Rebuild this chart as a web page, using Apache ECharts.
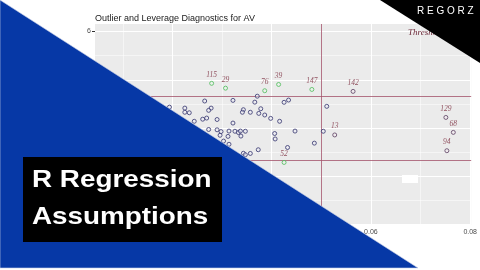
<!DOCTYPE html>
<html><head><meta charset="utf-8">
<script src="https://cdn.jsdelivr.net/npm/echarts@6/dist/echarts.min.js"></script>
<style>html,body{margin:0;padding:0;background:#fff}#c{width:480px;height:270px}</style>
</head><body><div id="c"></div>
<script>
// ---- data ----
var xTicks = [0.02, 0.04, 0.06, 0.08];
var yTicks = [-6, -3, 0, 3, 6];
var xGrid = [0.01, 0.02, 0.03, 0.04, 0.05, 0.06, 0.07, 0.08];
var yGrid = [-6, -4.5, -3, -1.5, 0, 1.5, 3, 4.5, 6];
var normalX = [0.0371,0.0265,0.0322,0.0366,0.0425,0.0434,0.0278,0.0273,0.0225,0.0225,0.0234,0.0194,0.0343,0.0341,0.0357,0.0378,0.0374,0.0386,0.0398,0.0416,0.0447,0.0269,0.0261,0.0290,0.0244,0.0322,0.0273,0.0290,0.0298,0.0314,0.0326,0.0333,0.0337,0.0347,0.0296,0.0312,0.0338,0.0303,0.0314,0.0406,0.0407,0.0432,0.0373,0.0343,0.0347,0.0357,0.0511,0.0504,0.0486];
var normalY = [1.98,1.68,1.72,1.61,1.60,1.74,1.24,1.10,1.24,0.98,0.95,1.30,1.14,0.98,0.98,1.20,0.91,0.81,0.60,0.42,-0.19,0.62,0.55,0.53,0.42,0.31,-0.09,-0.11,-0.22,-0.19,-0.20,-0.28,-0.19,-0.20,-0.45,-0.52,-0.50,-0.81,-1.01,-0.34,-0.68,-1.21,-1.35,-1.57,-1.66,-1.58,1.35,-0.20,-0.94];
var outlierIds = ['115','29','76','39','147','52'];
var outlierX = [0.0279,0.0307,0.0386,0.0414,0.0481,0.0425];
var outlierY = [2.78,2.48,2.32,2.71,2.40,-2.14];
var leverageIds = ['142','13','129','68','94'];
var leverageX = [0.0564,0.0527,0.0751,0.0766,0.0753];
var leverageY = [2.28,-0.43,0.66,-0.27,-1.41];
var residThreshold = [2, -2];
var leverageThreshold = 0.052;
var titleText = 'Outlier and Leverage Diagnostics for AV';
var thresholdText = 'Threshold: abs(2)';

function pts(xs, ys, ids){ return xs.map(function(x,i){ return {value:[x, ys[i]], name: ids ? ids[i] : ''}; }); }

var chart = echarts.init(document.getElementById('c'));
var labelStyle = {show:true, position:'top', distance:2, formatter:'{b}', fontFamily:'Liberation Serif', fontStyle:'italic', fontSize:7.5, color:'#7a2a3c'};
var gridLines = xGrid.map(function(v){ return {xAxis:v, lineStyle:{width: (Math.round(v*100)%2===0)?1.1:0.5}}; })
  .concat(yGrid.map(function(v){ return {yAxis:v, lineStyle:{width: (v%3===0)?1.1:0.5}}; }));
var thrLines = residThreshold.map(function(v){ return {yAxis:v}; }).concat([{xAxis:leverageThreshold}]);

chart.setOption({
  animation:false,
  backgroundColor:'#ffffff',
  title:{text:titleText, left:90, top:9, textStyle:{fontFamily:'Liberation Sans', fontSize:9, fontWeight:'normal', color:'#1a1a1a'}},
  grid:{left:95, right:6, top:24, bottom:45, show:true, backgroundColor:'#ebebeb', borderWidth:0},
  xAxis:{type:'value', min:0.0044, max:0.0802,
    axisLine:{show:false}, splitLine:{show:false},
    axisTick:{show:true, customValues:xTicks, length:3, lineStyle:{color:'#333'}},
    axisLabel:{customValues:xTicks, fontSize:7, color:'#4d4d4d', margin:4, fontFamily:'Liberation Sans'}},
  yAxis:{type:'value', min:-6.03, max:6.47,
    axisLine:{show:false}, splitLine:{show:false},
    axisTick:{show:true, customValues:yTicks, length:3, lineStyle:{color:'#333'}},
    axisLabel:{customValues:yTicks, fontSize:7, color:'#4d4d4d', margin:4, fontFamily:'Liberation Sans'}},
  series:[
    {type:'scatter', data:[], z:1, markLine:{z:1, silent:true, symbol:'none', label:{show:false}, lineStyle:{color:'#ffffff', type:'solid'}, data:gridLines, animation:false}},
    {type:'scatter', data:[], z:2, markLine:{z:2, silent:true, symbol:'none', label:{show:false}, lineStyle:{color:'#a3536b', width:0.8, type:'solid'}, data:thrLines, animation:false}},
    {type:'scatter', z:3, symbol:'circle', symbolSize:4, data:pts(normalX, normalY),
      itemStyle:{color:'rgba(235,235,245,0.6)', borderColor:'#34346e', borderWidth:1}},
    {type:'scatter', z:3, symbol:'circle', symbolSize:4, data:pts(outlierX, outlierY, outlierIds),
      itemStyle:{color:'rgba(235,245,235,0.6)', borderColor:'#4dbb5a', borderWidth:1}, label:labelStyle},
    {type:'scatter', z:3, symbol:'circle', symbolSize:4, data:pts(leverageX, leverageY, leverageIds),
      itemStyle:{color:'rgba(245,235,240,0.6)', borderColor:'#5a3e60', borderWidth:1}, label:labelStyle}
  ],
  graphic:[
    {type:'text', z:50, left:408, top:28, style:{text:thresholdText, fontFamily:'Liberation Serif', fontStyle:'italic', fontSize:9, fill:'#6e2a3a'}},
    {type:'rect', z:50, shape:{x:402, y:175, width:16, height:8}, style:{fill:'#ffffff'}},
    {type:'polygon', z:100, shape:{points:[[0,0],[418,268],[0,268]]}, style:{fill:'#0638a6', stroke:'#c8d0e8', lineWidth:0.6}},
    {type:'rect', z:101, shape:{x:23, y:157, width:199, height:85}, style:{fill:'#000000'}},
    {type:'text', z:102, x:32, y:168, scaleX:1.16, style:{text:'R Regression', fontFamily:'Liberation Sans', fontWeight:'bold', fontSize:24, fill:'#ffffff', verticalAlign:'top'}},
    {type:'text', z:102, x:32, y:205, scaleX:1.16, style:{text:'Assumptions', fontFamily:'Liberation Sans', fontWeight:'bold', fontSize:24, fill:'#ffffff', verticalAlign:'top'}},
    {type:'polygon', z:100, shape:{points:[[380,0],[480,0],[480,63]]}, style:{fill:'#000000'}},
    {type:'text', z:102, left:417, top:6, style:{text:'R E G O R Z', fontFamily:'Liberation Sans', fontSize:10, fill:'#ffffff'}}
  ]
});
</script></body></html>
